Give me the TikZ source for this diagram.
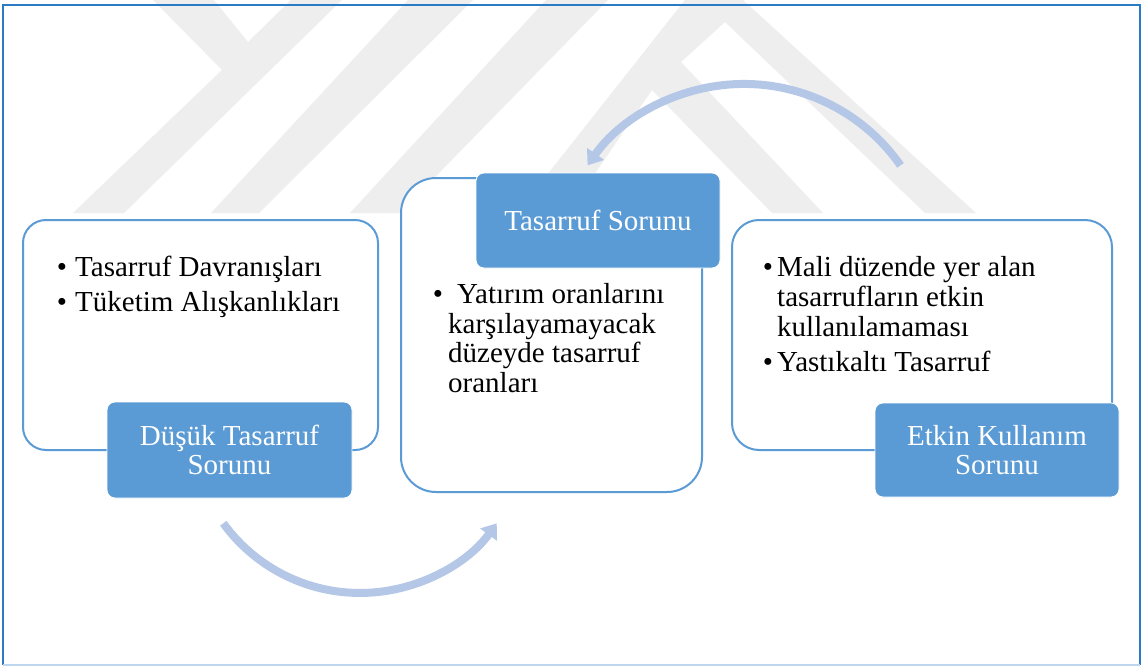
\documentclass[tikz,border=0pt]{standalone}
\usepackage{fontspec}
\setmainfont{Liberation Serif}
\usetikzlibrary{arrows.meta}
\definecolor{boxblue}{HTML}{5B9BD5}
\definecolor{arrowblue}{HTML}{B4C7E7}
\definecolor{framblue}{HTML}{2A7AC4}
\definecolor{framlight}{HTML}{BDD7EE}
\definecolor{wmgrey}{HTML}{EEEEEE}
\tikzset{
  whitebox/.style={draw=boxblue, line width=2pt, fill=white, inner sep=0pt},
  darkbox/.style={draw=white, line width=0.8pt, fill=boxblue, rounded corners=8pt, text=white,
    align=center, inner sep=0pt, font=\fontsize{29}{29}\selectfont},
  txt/.style={anchor=base west, inner sep=0pt, font=\fontsize{29}{35}\selectfont},
  bul/.style={anchor=base, inner sep=0pt, font=\fontsize{29}{35}\selectfont},
  cyclearrow/.style={draw=arrowblue, line width=8pt, -{Triangle[width=20pt,length=14pt]}},
  wm/.style={fill=wmgrey, draw=none}
}
\begin{document}
\begin{tikzpicture}[x=1pt,y=-1pt]
\useasboundingbox (0,0) rectangle (1142,666);
\fill[white] (0,0) rectangle (1142,666);
% watermark
\fill[wm] (153,0) -- (214,0) -- (248,42) -- (291,0) -- (342,0) -- (124,213) -- (73,213) -- (222,70) -- cycle;
\fill[wm] (408,0) -- (473,0) -- (259,213) -- (211,213) -- cycle;
\fill[wm] (546,0) -- (608,0) -- (400,213) -- (350,213) -- cycle;
\fill[wm] (517,213) -- (685,0) -- (743,0) -- (976,213) -- (925,213) -- (725,22) -- (681,62) -- (823,213) -- (772,213) -- (652,90) -- (568,213) -- cycle;
% frame
\draw[framblue, line width=1.5pt] (3,665) -- (3,5) -- (1140,5) -- (1140,665);
\draw[framlight, line width=1.5pt] (3,665) -- (1140,665);
% white boxes
\node[whitebox, rounded corners=23pt, minimum width=355pt, minimum height=230pt] (b1) at (200.5,335) {};
\node[whitebox, rounded corners=35pt, minimum width=301pt, minimum height=314pt] (b2) at (551.5,335) {};
\node[whitebox, rounded corners=27pt, minimum width=380pt, minimum height=230pt] (b3) at (922,335) {};
% dark label boxes
\node[darkbox, minimum width=245pt, minimum height=96pt] (l1) at (229.5,450) {Düşük Tasarruf\\Sorunu};
\node[darkbox, minimum width=244pt, minimum height=95pt] (l2) at (598,220.5) {Tasarruf Sorunu};
\node[darkbox, minimum width=244pt, minimum height=94pt] (l3) at (997,450) {Etkin Kullanım\\Sorunu};
% left box text
\node[bul] (p1) at (62,276) {•};
\node[txt] (t1) at (75,276) {Tasarruf Davranışları};
\node[bul] (p2) at (62,311) {•};
\node[txt] (t2) at (75,311) {Tüketim Alışkanlıkları};
% center box text
\node[bul] (p3) at (438,303.5) {•};
\node[txt] (t3) at (457,303.5) {Yatırım oranlarını};
\node[txt] (t4) at (448,333) {karşılayamayacak};
\node[txt] (t5) at (448,362.5) {düzeyde tasarruf};
\node[txt] (t6) at (448,392) {oranları};
% right box text
\node[bul] (p4) at (768,276.5) {•};
\node[txt] (t7) at (777,276.5) {Mali düzende yer alan};
\node[txt] (t8) at (777,306.5) {tasarrufların etkin};
\node[txt] (t9) at (777,336.5) {kullanılamaması};
\node[bul] (p5) at (768,371.5) {•};
\node[txt] (t10) at (777,371.5) {Yastıkaltı Tasarruf};
% cycle arrows
\coordinate (a1s) at (223.3,523.3);
\coordinate (a2s) at (900.5,165.4);
\draw[cyclearrow] (a1s) arc[start angle=144, end angle=36, radius=169];
\draw[cyclearrow] (a2s) arc[start angle=-35, end angle=-145, radius=191];
\end{tikzpicture}
\end{document}
